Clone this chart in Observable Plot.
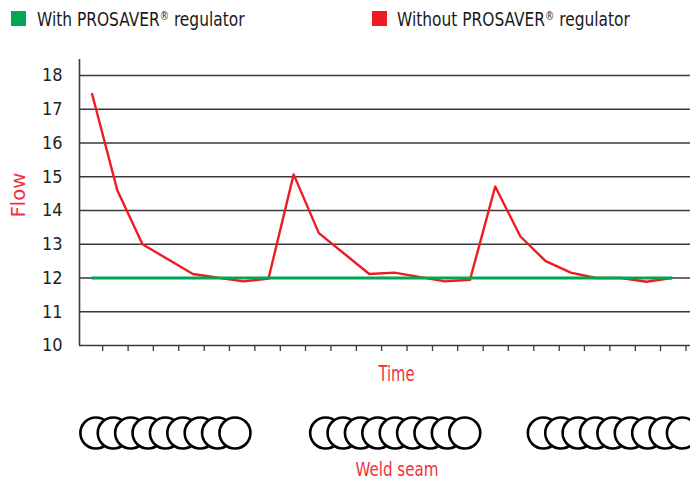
<!DOCTYPE html>
<html><head><meta charset="utf-8">
<script src="https://cdn.jsdelivr.net/npm/d3@7"></script>
<script src="https://cdn.jsdelivr.net/npm/@observablehq/plot@0.6"></script>
<style>
body{margin:0;background:#fff;font-family:"Liberation Sans Narrow","DejaVu Sans Condensed",sans-serif;}
#legend{position:relative;height:40px;width:690px;overflow:hidden;}
.sw{position:absolute;width:15px;height:15px;top:11px;}
.lt{position:absolute;top:10px;font-size:19.5px;color:#1a1a1a;white-space:nowrap;line-height:1;transform:scaleX(0.88);transform-origin:0 0;}
.lt sup{font-size:0.6em;vertical-align:0.55em;line-height:0;}
#chart svg{display:block;}
</style>
</head><body>
<div id="legend"></div>
<div id="chart"></div>
<script>
// ---- data ----
const seriesNames = ["With PROSAVER® regulator", "Without PROSAVER® regulator"];
const seriesColors = ["#00a650", "#ed1c24"];
// time index (x) and flow (y)
const withTime = [0, 23];
const withFlow = [12, 12];
const withoutTime = [0, 1, 2, 4, 6, 7, 8, 9, 11, 12, 14, 15, 16, 17, 18, 19, 20, 21, 22, 23];
const withoutFlow = [17.45, 14.6, 13.0, 12.12, 11.9, 11.98, 15.07, 13.33, 12.12, 12.16, 11.9, 11.95, 14.71, 13.23, 12.5, 12.16, 12.0, 12.0, 11.89, 12.0];
const yTicks = [10, 11, 12, 13, 14, 15, 16, 17, 18];
const xTicks = [0.42, 1.43, 2.43, 3.44, 4.45, 5.45, 6.46, 7.47, 8.47, 9.48, 10.49, 11.49, 12.5, 13.51, 14.51, 15.52, 16.52, 17.53, 18.54, 19.54, 20.55, 21.56, 22.56, 23.57];
const yLabel = "Flow";
const xLabel = "Time";
const seamLabel = "Weld seam";
// weld seams: start time of each seam, beads per seam, bead spacing (time units)
const seamStarts = [0.15, 9.27, 17.91];
const beadsPerSeam = 9;
const beadStep = 0.69;

// ---- legend ----
const legend = document.getElementById("legend");
const legendX = [[11, 37.3], [371.7, 396.7]];
seriesNames.forEach((name, i) => {
  const sw = document.createElement("div");
  sw.className = "sw";
  sw.style.left = legendX[i][0] + "px";
  sw.style.background = seriesColors[i];
  legend.appendChild(sw);
  const t = document.createElement("div");
  t.className = "lt";
  t.style.left = legendX[i][1] + "px";
  const parts = name.split("®");
  t.appendChild(document.createTextNode(parts[0]));
  const sup = document.createElement("sup");
  sup.textContent = "®";
  t.appendChild(sup);
  t.appendChild(document.createTextNode(parts[1]));
  legend.appendChild(t);
});

// ---- tables ----
const withData = withTime.map((t, i) => ({t, v: withFlow[i]}));
const withoutData = withoutTime.map((t, i) => ({t, v: withoutFlow[i]}));
const beads = [];
seamStarts.forEach((s, g) => { for (let k = 0; k < beadsPerSeam; k++) beads.push({t: s + k * beadStep, g}); });

const labelRed = "#f0323c";
const chart = Plot.plot({
  width: 690,
  height: 443,
  marginLeft: 79,
  marginRight: 0,
  marginTop: 19,
  marginBottom: 138,
  style: {fontFamily: '"Liberation Sans Narrow","DejaVu Sans Condensed",sans-serif', fontSize: "18px", color: "#222", background: "#fff", overflow: "hidden"},
  x: {domain: [-0.5, 23.75], axis: null},
  y: {domain: [10, 18.474], axis: null},
  marks: [
    Plot.ruleY(yTicks.slice(1), {stroke: "#3a3a3a", strokeWidth: 1.6}),
    Plot.axisY(yTicks, {tickSize: 0, tickPadding: 17, fill: "#222", label: null, fontSize: 18}),
    Plot.axisX(xTicks, {tickSize: 6, tickFormat: () => "", label: null, stroke: "#3a3a3a", strokeWidth: 1.3}),
    Plot.ruleX([-0.5], {stroke: "#3a3a3a", strokeWidth: 1.6}),
    Plot.ruleY([10], {stroke: "#3a3a3a", strokeWidth: 1.6}),
    Plot.line(withoutData, {x: "t", y: "v", stroke: seriesColors[1], strokeWidth: 2.4}),
    Plot.line(withData, {x: "t", y: "v", stroke: seriesColors[0], strokeWidth: 2.8}),
    Plot.text([yLabel], {frameAnchor: "left", dx: -60.5, dy: 15, rotate: -90, fill: labelRed, fontSize: 19}),
    Plot.text([xLabel], {frameAnchor: "bottom", dx: 11.5, dy: 35.5, fill: labelRed, fontSize: 20.5}),
    Plot.dot(beads, {x: "t", frameAnchor: "bottom", dy: 87.5, r: 15.5, fill: "white", stroke: "#000", strokeWidth: 2.6}),
    Plot.text([seamLabel], {frameAnchor: "bottom", dx: 12, dy: 130, fill: labelRed, fontSize: 20})
  ]
});
// condense the label glyphs to the reference's narrow face
const labelWidths = {[yLabel]: 45, [xLabel]: 36, [seamLabel]: 83};
d3.select(chart).selectAll("text").each(function () {
  const w = labelWidths[this.textContent];
  if (w) { this.setAttribute("textLength", w); this.setAttribute("lengthAdjust", "spacingAndGlyphs"); }
});
document.getElementById("chart").appendChild(chart);
</script>
</body></html>
